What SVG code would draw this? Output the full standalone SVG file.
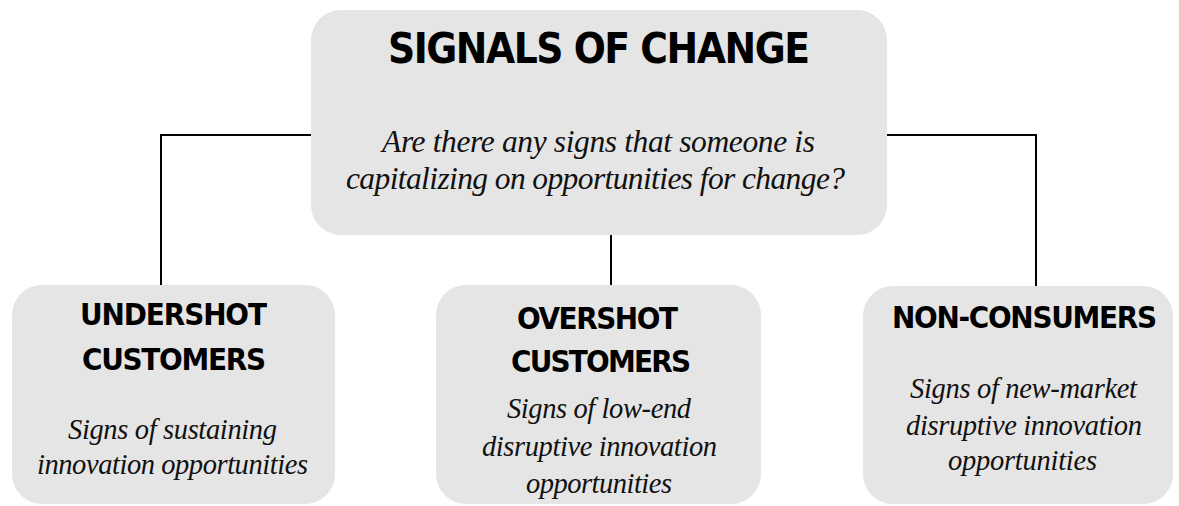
<svg xmlns="http://www.w3.org/2000/svg" width="1179" height="506" viewBox="0 0 1179 506">
  <style>
    .box { fill: #e5e5e5; }
    .head { font-family: "DejaVu Sans Condensed", "DejaVu Sans", sans-serif; font-weight: bold; fill: #000; text-anchor: middle; }
    .note { font-family: "Liberation Serif", serif; font-style: italic; fill: #111; text-anchor: middle; }
    .link { fill: none; stroke: #000; stroke-width: 2; }
  </style>
  <rect width="1179" height="506" fill="#fff"/>

  <!-- tree connectors -->
  <g id="connectors">
    <path class="link" d="M161 285 V135 H311"/>
    <path class="link" d="M887 135 H1036 V286"/>
    <path class="link" d="M611 235 V285"/>
  </g>

  <!-- root -->
  <g id="signals">
    <rect class="box" x="311" y="10" width="576" height="225" rx="30"/>
    <text class="head" x="599" y="63" font-size="42" textLength="422">SIGNALS OF CHANGE</text>
    <text class="note" x="598.5" y="152" font-size="31.5" textLength="433">Are there any signs that someone is</text>
    <text class="note" x="595.5" y="189" font-size="31.5" textLength="499">capitalizing on opportunities for change?</text>
  </g>

  <!-- undershot -->
  <g id="undershot">
    <rect class="box" x="12" y="285" width="323" height="219" rx="30"/>
    <text class="head" x="173.5" y="325" font-size="31" textLength="187">UNDERSHOT</text>
    <text class="head" x="174" y="370" font-size="31" textLength="184">CUSTOMERS</text>
    <text class="note" x="172.5" y="439" font-size="28.5" textLength="209">Signs of sustaining</text>
    <text class="note" x="172.5" y="474" font-size="28.5" textLength="271">innovation opportunities</text>
  </g>

  <!-- overshot -->
  <g id="overshot">
    <rect class="box" x="436" y="285" width="325" height="219" rx="30"/>
    <text class="head" x="597.5" y="329" font-size="31" textLength="161">OVERSHOT</text>
    <text class="head" x="601" y="372" font-size="31" textLength="180">CUSTOMERS</text>
    <text class="note" x="599" y="418" font-size="28.5" textLength="184">Signs of low-end</text>
    <text class="note" x="599.5" y="456" font-size="28.5" textLength="235">disruptive innovation</text>
    <text class="note" x="599" y="493" font-size="28.5" textLength="146">opportunities</text>
  </g>

  <!-- non-consumers -->
  <g id="nonconsumers">
    <rect class="box" x="863" y="286" width="310" height="218" rx="30"/>
    <text class="head" x="1024.5" y="328" font-size="31" textLength="265">NON-CONSUMERS</text>
    <text class="note" x="1023.5" y="398" font-size="28.5" textLength="227">Signs of new-market</text>
    <text class="note" x="1024" y="435" font-size="28.5" textLength="236">disruptive innovation</text>
    <text class="note" x="1022.5" y="470" font-size="28.5" textLength="149">opportunities</text>
  </g>
</svg>
